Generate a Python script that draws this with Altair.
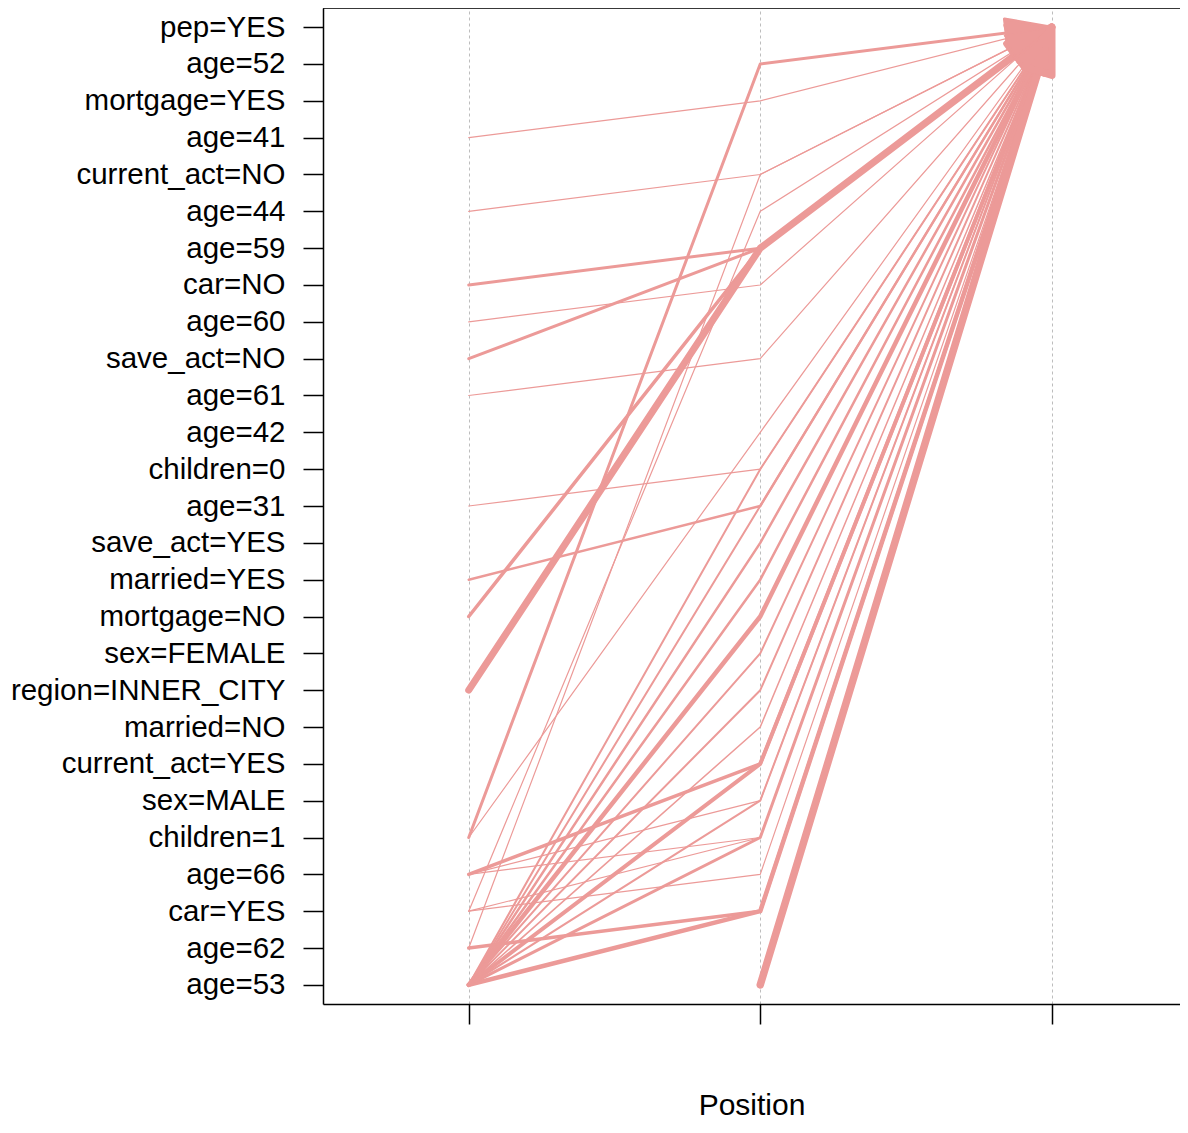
import math
import altair as alt
import pandas as pd

# ---- data -------------------------------------------------------------
items = ["pep=YES", "age=52", "mortgage=YES", "age=41", "current_act=NO", "age=44",
         "age=59", "car=NO", "age=60", "save_act=NO", "age=61", "age=42", "children=0",
         "age=31", "save_act=YES", "married=YES", "mortgage=NO", "sex=FEMALE",
         "region=INNER_CITY", "married=NO", "current_act=YES", "sex=MALE", "children=1",
         "age=66", "car=YES", "age=62", "age=53"]

rhs_item = "pep=YES"
# rules: first lhs item (position 1, "" if none), second lhs item (position 2), support width
lhs_first = ["age=41", "age=44", "car=NO", "age=60", "save_act=NO", "age=61", "age=31",
             "married=YES", "mortgage=NO", "region=INNER_CITY", "children=1", "car=YES",
             "children=1", "age=62", "age=66", "age=66", "age=66", "car=YES", "car=YES",
             "age=62", "age=53", "age=53", "age=53", "age=53", "age=53", "age=53",
             "age=53", "age=53", "age=53", "age=53", "age=53", "age=53", ""]
lhs_second = ["mortgage=YES", "current_act=NO", "age=59", "car=NO", "age=59", "save_act=NO",
              "children=0", "age=31", "age=59", "age=59", "age=52", "age=44", "age=42",
              "current_act=NO", "current_act=YES", "sex=MALE", "children=1", "age=66",
              "children=1", "car=YES", "car=YES", "children=1", "current_act=YES",
              "sex=MALE", "married=NO", "region=INNER_CITY", "sex=FEMALE", "mortgage=NO",
              "married=YES", "save_act=YES", "children=0", "age=31", "age=53"]
support_w = [1.2, 1.2, 3.0, 1.2, 3.0, 1.2, 1.2, 2.5, 3.5, 7.0, 3.0, 1.2, 1.2, 1.2, 3.5,
             1.2, 1.2, 1.2, 1.2, 3.5, 4.5, 3.0, 4.0, 2.0, 1.5, 2.0, 2.0, 4.5, 2.5, 2.5,
             2.0, 2.0, 7.5]

# ---- layout constants (style) ------------------------------------------
W, H = 857, 996
X_DOMAIN = [0.5, 3.44]
Y_PAD = 0.52
PINK = "#EC9A98"
HEAD_LEN = 48.0
HEAD_TAN = math.tan(math.radians(17))

px_per_x = W / (X_DOMAIN[1] - X_DOMAIN[0])
step_y = H / (len(items) - 1 + 2 * Y_PAD)

rows, heads = [], []
for r, (a, b, w) in enumerate(zip(lhs_first, lhs_second, support_w)):
    if a:
        rows.append({"rule": r, "pos": 1, "item": a, "w": w})
    rows.append({"rule": r, "pos": 2, "item": b, "w": w})
    rows.append({"rule": r, "pos": 3, "item": rhs_item, "w": w})
    dx = px_per_x
    dy = (items.index(rhs_item) - items.index(b)) * step_y
    ang = math.degrees(math.atan2(dy, dx)) % 360
    heads.append({"rule": r, "pos": 3, "item": rhs_item, "w": w, "ang": ang})

df = pd.DataFrame(rows)
hdf = pd.DataFrame(heads)

font = "Liberation Sans"
xscale = alt.Scale(domain=X_DOMAIN, nice=False, zero=False)
yscale = alt.Scale(type="point", padding=Y_PAD)

x_axis = alt.Axis(values=[1, 2, 3], labels=False, ticks=True, tickSize=20,
                  tickColor="black", tickWidth=1.5, domainColor="black", domainWidth=1.5,
                  grid=True, gridDash=[3, 3], gridColor="#BDBDBD", gridWidth=1,
                  title="Position", titleFont=font, titleFontSize=30,
                  titleFontWeight="normal", titleColor="black",
                  titleBaseline="alphabetic", titleY=110)
y_axis = alt.Axis(title=None, grid=False, tickSize=20, tickColor="black", tickWidth=1.5,
                  domainColor="black", domainWidth=1.5, labelFont=font, labelFontSize=29.5,
                  labelColor="black", labelPadding=18, labelLimit=500)

lines = alt.Chart(df).mark_line(color=PINK, strokeCap="round", strokeJoin="round").encode(
    x=alt.X("pos:Q", scale=xscale, axis=x_axis),
    y=alt.Y("item:N", sort=items, scale=yscale, axis=y_axis),
    detail="rule:N",
    order="pos:Q",
    strokeWidth=alt.StrokeWidth("w:Q", scale=None),
)

ARROW = "M -1 -{t:.4f} L 0 0 L -1 {t:.4f} Z".format(t=HEAD_TAN)
size = (2 * HEAD_LEN / math.sqrt(1 + HEAD_TAN ** 2)) ** 2
arrow_heads = alt.Chart(hdf).mark_point(shape=ARROW, filled=True, fill=PINK, stroke=PINK,
                                        opacity=1, fillOpacity=1, size=size,
                                        strokeJoin="round").encode(
    x=alt.X("pos:Q", scale=xscale),
    y=alt.Y("item:N", sort=items, scale=yscale),
    angle=alt.Angle("ang:Q", scale=None),
    strokeWidth=alt.StrokeWidth("w:Q", scale=None),
)

top_border = alt.Chart(pd.DataFrame({"a": [0]})).mark_rule(color="black", strokeWidth=1.5).encode(
    x=alt.value(0), x2=alt.value(W), y=alt.value(0))

chart = alt.layer(lines, arrow_heads, top_border).properties(
    width=W, height=H,
    autosize=alt.AutoSizeParams(type="none"),
    padding={"left": 315, "top": 0, "right": 0, "bottom": 117},
).configure_view(stroke=None).configure(background="white")

chart.save("out.html", embed_options={"renderer": "svg", "actions": False})
